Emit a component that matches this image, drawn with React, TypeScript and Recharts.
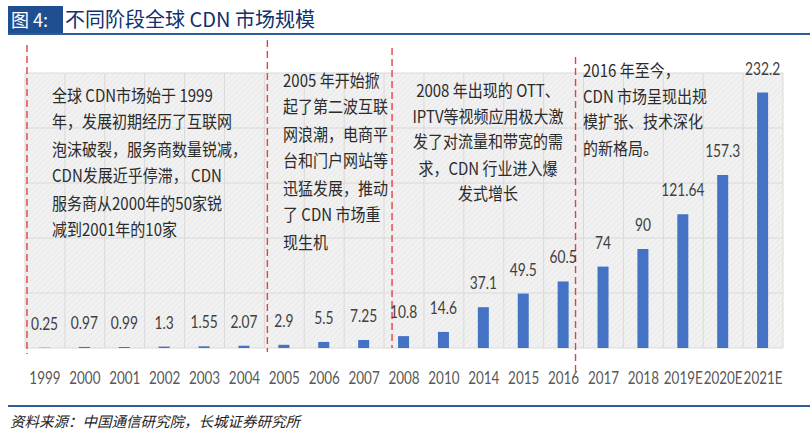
import React from 'react';
import { BarChart, Bar, XAxis, YAxis, CartesianGrid, LabelList, ReferenceLine } from 'recharts';

const years = ['1999', '2000', '2001', '2002', '2003', '2004', '2005', '2006', '2007', '2008', '2010', '2014', '2015', '2016', '2017', '2018', '2019E', '2020E', '2021E'];
const values = [0.25, 0.97, 0.99, 1.3, 1.55, 2.07, 2.9, 5.5, 7.25, 10.8, 14.6, 37.1, 49.5, 60.5, 74, 90, 121.64, 157.3, 232.2];
const valueLabels = ['0.25', '0.97', '0.99', '1.3', '1.55', '2.07', '2.9', '5.5', '7.25', '10.8', '14.6', '37.1', '49.5', '60.5', '74', '90', '121.64', '157.3', '232.2'];
const yTicks = [0, 50, 100, 150, 200, 250];
const stageStarts = ['1999', '2005', '2008', '2017'];

const note1 = ['全球 CDN市场始于 1999', '年，发展初期经历了互联网', '泡沫破裂，服务商数量锐减，', 'CDN发展近乎停滞， CDN', '服务商从2000年的50家锐', '减到2001年的10家'];
const note2 = ['2005 年开始掀', '起了第二波互联', '网浪潮，电商平', '台和门户网站等', '迅猛发展，推动', '了 CDN 市场重', '现生机'];
const note3 = ['2008 年出现的 OTT、', 'IPTV等视频应用极大激', '发了对流量和带宽的需', '求，CDN 行业进入爆', '发式增长'];
const note4 = ['2016 年至今，', 'CDN 市场呈现出规', '模扩张、技术深化', '的新格局。'];

const titleTag = '图 4:';
const titleText = '不同阶段全球 CDN 市场规模';
const sourceText = '资料来源：中国通信研究院，长城证券研究所';

const data = years.map((y, i) => ({ year: y, value: values[i], label: valueLabels[i] }));

// style-only settings
const LATIN = 'Lato, "Noto Sans", sans-serif';
const CJK = '"Noto Sans CJK SC", "Noto Sans", sans-serif';
const BLUE = '#4472C4';
const NAVY = '#1F4E91';
const RED = '#E8403F';
const STRETCH = 1.15;
const lineNudge = [2, 3, 8, -8];
const lineExtend = [[28, 6], [33, 4], [25, 0], [16, 25]];

const noteStyle: React.CSSProperties = {
  position: 'absolute',
  fontFamily: CJK,
  fontSize: 15,
  color: '#2B2B2B',
  whiteSpace: 'nowrap',
  zIndex: 2,
  transformOrigin: 'top left',
  transform: `scale(1, ${STRETCH})`,
};

function Note({ lines, style, lh }: { lines: string[]; style: React.CSSProperties; lh: number }) {
  return (
    <div style={{ ...noteStyle, lineHeight: `${lh / STRETCH}px`, ...style }}>
      {lines.map((l, i) => (
        <div key={i}>{l}</div>
      ))}
    </div>
  );
}

const NarrowTick = (p: any) => (
  <text
    transform={`translate(${p.x},${p.y}) scale(0.84,1.05)`}
    textAnchor="middle"
    dy="0.71em"
    fill="#595959"
    fontSize={16}
    fontFamily={LATIN}
  >
    {p.payload.value}
  </text>
);

const ValueLabel = (p: any) => {
  const cx = Number(p.x) + Number(p.width) / 2;
  const by = Number(p.y) - 18;
  return (
    <text transform={`translate(${cx},${by}) scale(0.86,1.05)`} textAnchor="middle" fill="#404040" fontSize={16} fontFamily={LATIN}>
      {p.value}
    </text>
  );
};

const makeStage = (i: number) => (p: any) => {
  const top = Math.min(p.y1, p.y2);
  const bottom = Math.max(p.y1, p.y2);
  const x = p.x1 + lineNudge[i];
  return (
    <line
      x1={x}
      x2={x}
      y1={top - lineExtend[i][0]}
      y2={bottom + lineExtend[i][1]}
      stroke={RED}
      strokeWidth={1.4}
      strokeDasharray="7 4"
    />
  );
};

export default function App() {
  return (
    <div style={{ position: 'absolute', left: 0, top: 0, width: 810, height: 432, background: '#ffffff', overflow: 'hidden' }}>
      <svg width={0} height={0} style={{ position: 'absolute' }}>
        <defs>
          <pattern id="hatch" patternUnits="userSpaceOnUse" width={4} height={4} patternTransform="rotate(45)">
            <rect width={4} height={4} fill="#F1F1F1" />
            <line x1={0} y1={0} x2={0} y2={4} stroke="#E2E2E2" strokeWidth={1} />
          </pattern>
        </defs>
      </svg>

      <div style={{ position: 'absolute', left: 0, top: 0 }}>
        <BarChart width={810} height={432} data={data} margin={{ top: 73, right: 27, left: 25, bottom: 0 }}>
          <CartesianGrid
            fill="url(#hatch)"
            stroke="#D9D9D9"
            strokeWidth={1}
            verticalCoordinatesGenerator={({ offset }: any) =>
              years.map((_, i) => offset.left + (i * offset.width) / years.length).concat(offset.left + offset.width)
            }
          />
          <XAxis
            dataKey="year"
            interval={0}
            tickLine={false}
            axisLine={false}
            height={84}
            tickMargin={18}
            tick={NarrowTick}
          />
          <YAxis hide domain={[0, 250]} ticks={yTicks} />
          <Bar dataKey="value" fill={BLUE} barSize={11} isAnimationActive={false}>
            <LabelList dataKey="label" content={ValueLabel} />
          </Bar>
          {stageStarts.map((s, i) => (
            <ReferenceLine key={s} x={s} position="start" stroke={RED} shape={makeStage(i)} />
          ))}
        </BarChart>
      </div>

      {/* Title */}
      <div style={{ position: 'absolute', left: 8, top: 6, width: 55, height: 27, background: NAVY, color: '#fff', fontFamily: CJK, fontSize: 18, lineHeight: '27px', paddingLeft: 3, boxSizing: 'border-box', zIndex: 2 }}>
        {titleTag}
      </div>
      <div style={{ position: 'absolute', left: 65, top: 5, color: '#10306E', fontFamily: CJK, fontSize: 20, lineHeight: '28px', whiteSpace: 'nowrap', zIndex: 2 }}>
        {titleText}
      </div>
      <div style={{ position: 'absolute', left: 8, top: 33, width: 802, height: 2, background: '#2E5C9A' }} />

      {/* Stage notes */}
      <Note lines={note1} lh={27} style={{ left: 52, top: 81 }} />
      <Note lines={note2} lh={27} style={{ left: 283, top: 66 }} />
      <Note lines={note3} lh={26} style={{ left: 388, width: 200, top: 77, textAlign: 'center' }} />
      <Note lines={note4} lh={26} style={{ left: 583, top: 57 }} />

      {/* Footer */}
      <div style={{ position: 'absolute', left: 8, top: 405, width: 802, height: 2, background: '#2E5C9A' }} />
      <div style={{ position: 'absolute', left: 10, top: 410, fontFamily: CJK, fontStyle: 'italic', fontSize: 14.5, lineHeight: '22px', color: '#222', whiteSpace: 'nowrap' }}>
        {sourceText}
      </div>
    </div>
  );
}
